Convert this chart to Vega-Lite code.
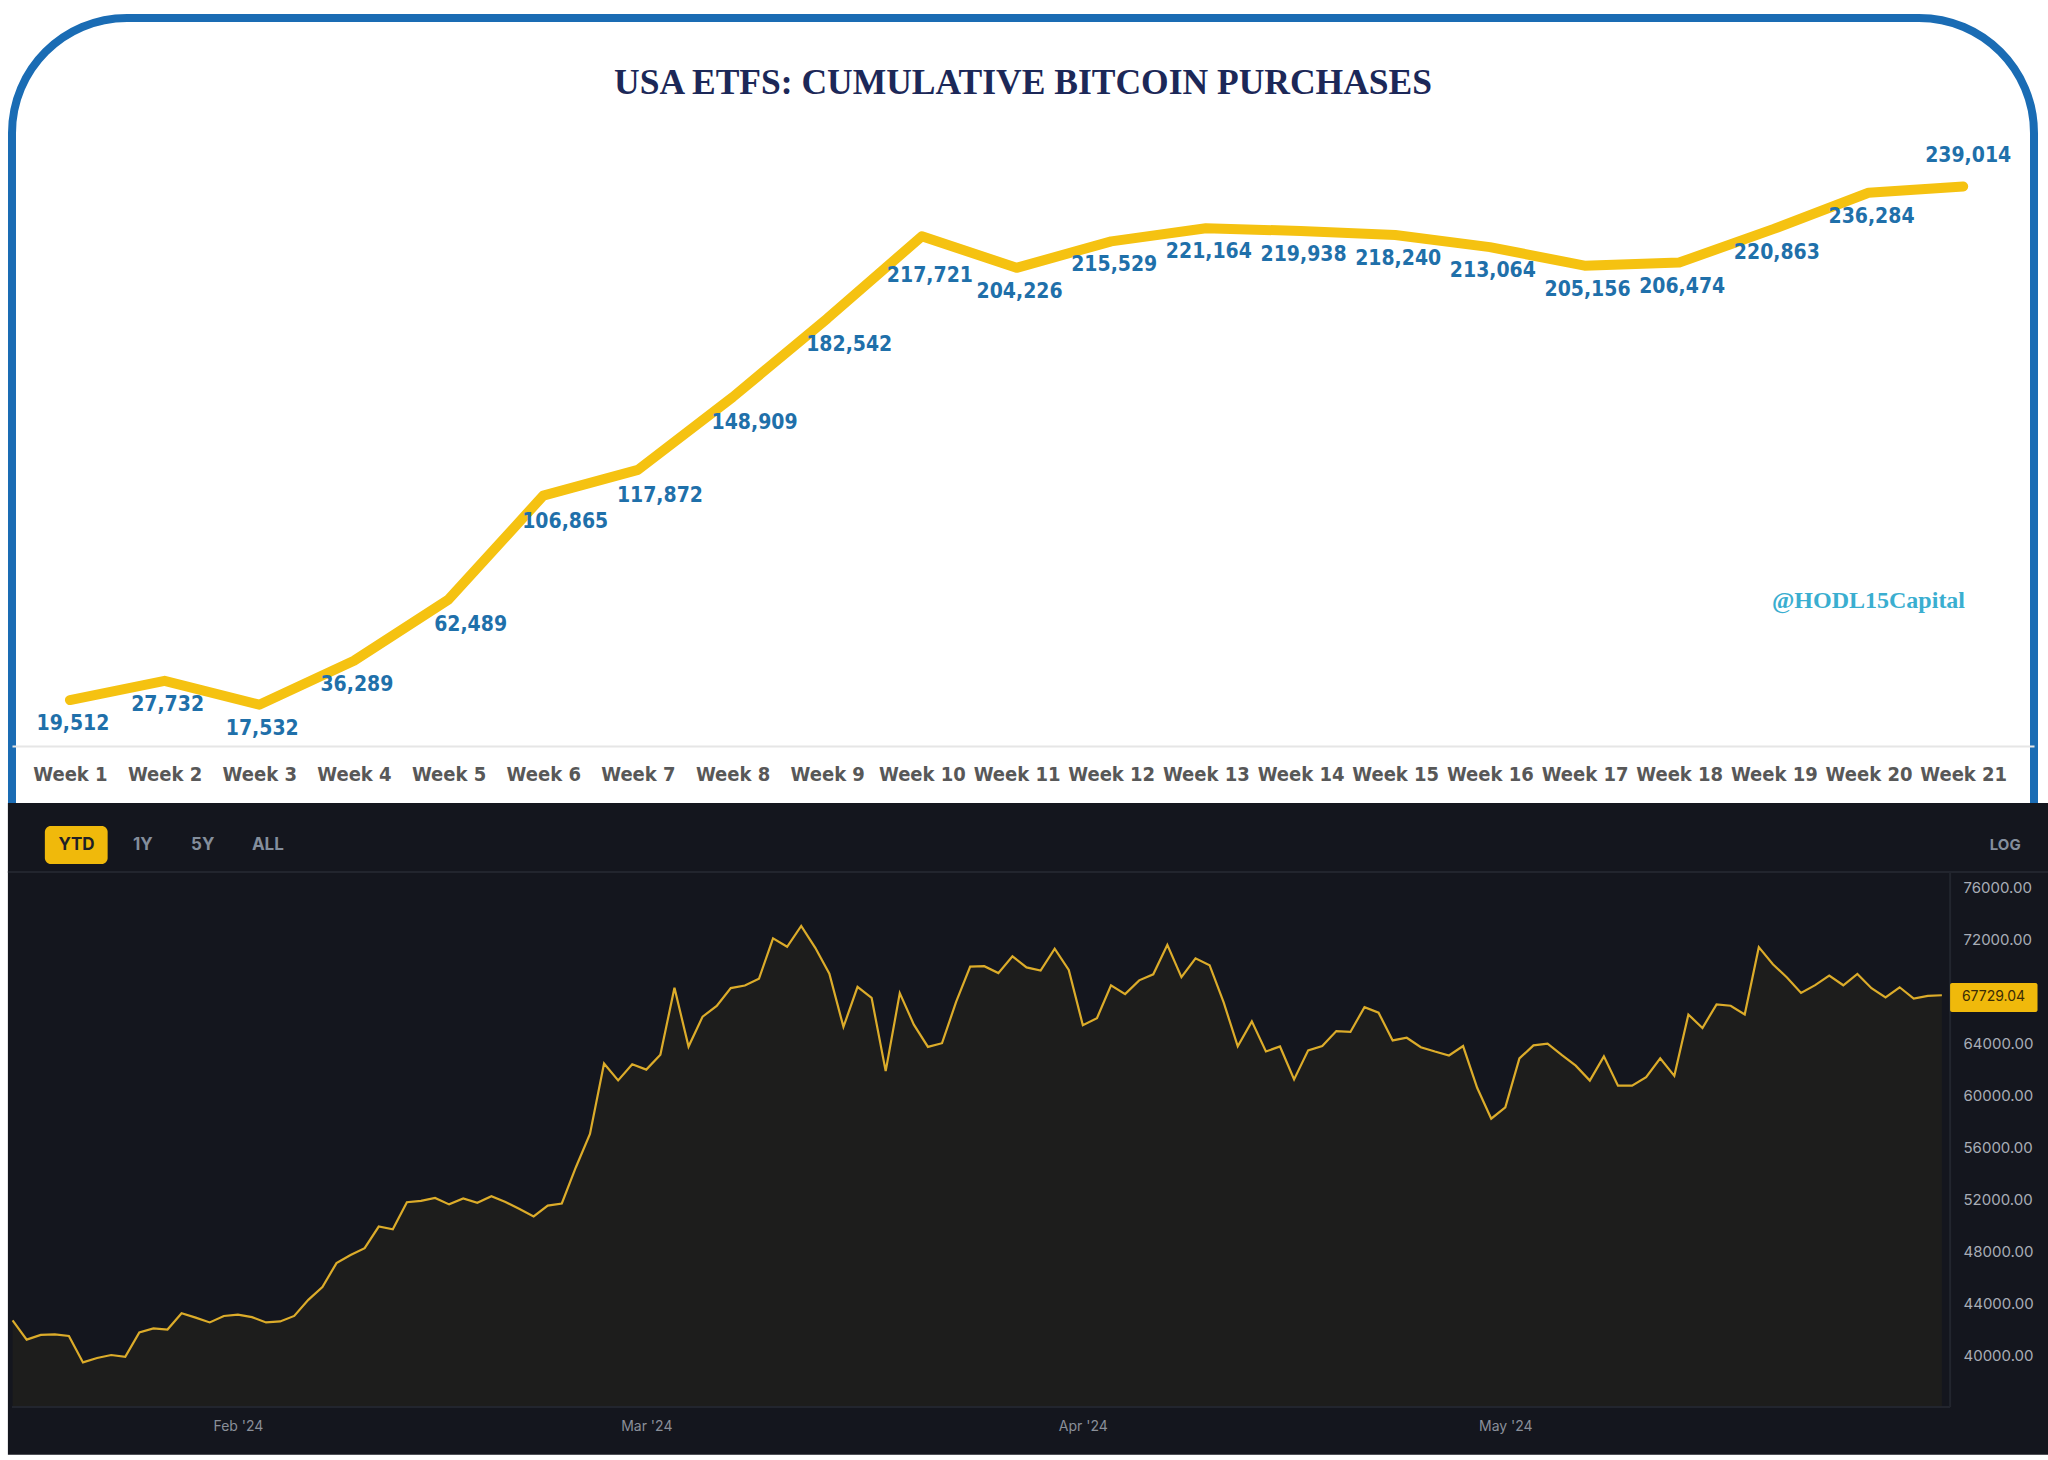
{
  "$schema": "https://vega.github.io/schema/vega-lite/v6.json",
  "background": "#ffffff",
  "autosize": {"type": "none"},
  "padding": {"left": 12, "top": 18, "right": 14, "bottom": 10},
  "width": 2022,
  "height": 1432,
  "view": {"fill": "#ffffff", "stroke": "#1a6cb4", "strokeWidth": 8, "cornerRadius": 115},
  "title": {"text": "USA ETFS: CUMULATIVE BITCOIN PURCHASES", "font": "Liberation Serif", "fontSize": 35.5, "fontWeight": "bold", "color": "#1c2858", "anchor": "middle", "frame": "group", "offset": -118, "baseline": "bottom"},
  "resolve": {"scale": {"x": "independent", "y": "independent"}, "axis": {"x": "independent", "y": "independent"}},
  "layer": [
    {
      "data": {"values": [
        {"week": "Week 1", "btc": 19512},
        {"week": "Week 2", "btc": 27732},
        {"week": "Week 3", "btc": 17532},
        {"week": "Week 4", "btc": 36289},
        {"week": "Week 5", "btc": 62489},
        {"week": "Week 6", "btc": 106865},
        {"week": "Week 7", "btc": 117872},
        {"week": "Week 8", "btc": 148909},
        {"week": "Week 9", "btc": 182542},
        {"week": "Week 10", "btc": 217721},
        {"week": "Week 11", "btc": 204226},
        {"week": "Week 12", "btc": 215529},
        {"week": "Week 13", "btc": 221164},
        {"week": "Week 14", "btc": 219938},
        {"week": "Week 15", "btc": 218240},
        {"week": "Week 16", "btc": 213064},
        {"week": "Week 17", "btc": 205156},
        {"week": "Week 18", "btc": 206474},
        {"week": "Week 19", "btc": 220863},
        {"week": "Week 20", "btc": 236284},
        {"week": "Week 21", "btc": 239014}
      ]},
      "encoding": {
        "x": {
          "field": "week", "type": "ordinal", "sort": null,
          "scale": {"type": "point", "padding": 0.68, "align": 0.45},
          "axis": {"title": null, "orient": "bottom", "offset": -704, "domain": true, "domainColor": "#e6e6e6", "domainWidth": 2, "ticks": false, "grid": false, "labelPadding": 18, "labelAngle": 0, "labelOverlap": false, "labelFont": "Liberation Sans Narrow, DejaVu Sans Condensed, Roboto Condensed, Liberation Serif", "labelFontSize": 20, "labelFontWeight": "bold", "labelColor": "#585858"}
        },
        "y": {"field": "btc", "type": "quantitative", "scale": {"domain": [-300983, 310983], "nice": false, "zero": false}, "axis": null}
      },
      "layer": [
        {
          "mark": {"type": "line", "color": "#f5c211", "strokeWidth": 10, "strokeCap": "round", "strokeJoin": "round"}
        },
        {
          "transform": [{"filter": {"field": "week", "oneOf": ["Week 1","Week 2","Week 3","Week 4","Week 11","Week 12","Week 13","Week 14","Week 15","Week 16","Week 17","Week 18","Week 19","Week 20"]}}],
          "mark": {"type": "text", "dx": 3, "dy": 24, "align": "center", "baseline": "middle", "font": "Liberation Sans Narrow, DejaVu Sans Condensed, Roboto Condensed, Liberation Serif", "fontSize": 21, "fontWeight": "bold", "color": "#1f70aa"},
          "encoding": {"text": {"field": "btc", "type": "quantitative", "format": ",d"}}
        },
        {
          "transform": [{"filter": {"field": "week", "oneOf": ["Week 5","Week 6","Week 7","Week 8","Week 9"]}}],
          "mark": {"type": "text", "dx": 22, "dy": 26, "align": "center", "baseline": "middle", "font": "Liberation Sans Narrow, DejaVu Sans Condensed, Roboto Condensed, Liberation Serif", "fontSize": 21, "fontWeight": "bold", "color": "#1f70aa"},
          "encoding": {"text": {"field": "btc", "type": "quantitative", "format": ",d"}}
        },
        {
          "transform": [{"filter": {"field": "week", "oneOf": ["Week 10"]}}],
          "mark": {"type": "text", "dx": 8, "dy": 40, "align": "center", "baseline": "middle", "font": "Liberation Sans Narrow, DejaVu Sans Condensed, Roboto Condensed, Liberation Serif", "fontSize": 21, "fontWeight": "bold", "color": "#1f70aa"},
          "encoding": {"text": {"field": "btc", "type": "quantitative", "format": ",d"}}
        },
        {
          "transform": [{"filter": {"field": "week", "oneOf": ["Week 21"]}}],
          "mark": {"type": "text", "dx": 5, "dy": -30, "align": "center", "baseline": "middle", "font": "Liberation Sans Narrow, DejaVu Sans Condensed, Roboto Condensed, Liberation Serif", "fontSize": 21, "fontWeight": "bold", "color": "#1f70aa"},
          "encoding": {"text": {"field": "btc", "type": "quantitative", "format": ",d"}}
        },
        {
          "transform": [{"filter": {"field": "week", "oneOf": ["Week 20"]}}],
          "mark": {"type": "text", "text": "@HODL15Capital", "align": "center", "baseline": "middle", "font": "Liberation Serif", "fontSize": 24, "fontWeight": "bold", "color": "#3aaed0"},
          "encoding": {"y": {"datum": 61700, "type": "quantitative"}}
        }
      ]
    },
    {
      "data": {"values": [
        {"date": "2024-01-16", "price": 42742},
        {"date": "2024-01-17", "price": 41262},
        {"date": "2024-01-18", "price": 41618},
        {"date": "2024-01-19", "price": 41665},
        {"date": "2024-01-20", "price": 41545},
        {"date": "2024-01-21", "price": 39507},
        {"date": "2024-01-22", "price": 39845},
        {"date": "2024-01-23", "price": 40077},
        {"date": "2024-01-24", "price": 39933},
        {"date": "2024-01-25", "price": 41816},
        {"date": "2024-01-26", "price": 42120},
        {"date": "2024-01-27", "price": 42035},
        {"date": "2024-01-28", "price": 43288},
        {"date": "2024-01-29", "price": 42952},
        {"date": "2024-01-30", "price": 42582},
        {"date": "2024-01-31", "price": 43075},
        {"date": "2024-02-01", "price": 43185},
        {"date": "2024-02-02", "price": 42992},
        {"date": "2024-02-03", "price": 42583},
        {"date": "2024-02-04", "price": 42658},
        {"date": "2024-02-05", "price": 43084},
        {"date": "2024-02-06", "price": 44318},
        {"date": "2024-02-07", "price": 45301},
        {"date": "2024-02-08", "price": 47147},
        {"date": "2024-02-09", "price": 47771},
        {"date": "2024-02-10", "price": 48293},
        {"date": "2024-02-11", "price": 49958},
        {"date": "2024-02-12", "price": 49743},
        {"date": "2024-02-13", "price": 51826},
        {"date": "2024-02-14", "price": 51938},
        {"date": "2024-02-15", "price": 52160},
        {"date": "2024-02-16", "price": 51663},
        {"date": "2024-02-17", "price": 52122},
        {"date": "2024-02-18", "price": 51780},
        {"date": "2024-02-19", "price": 52284},
        {"date": "2024-02-20", "price": 51839},
        {"date": "2024-02-21", "price": 51304},
        {"date": "2024-02-22", "price": 50731},
        {"date": "2024-02-23", "price": 51571},
        {"date": "2024-02-24", "price": 51733},
        {"date": "2024-02-25", "price": 54522},
        {"date": "2024-02-26", "price": 57085},
        {"date": "2024-02-27", "price": 62504},
        {"date": "2024-02-28", "price": 61198},
        {"date": "2024-02-29", "price": 62440},
        {"date": "2024-03-01", "price": 62029},
        {"date": "2024-03-02", "price": 63168},
        {"date": "2024-03-03", "price": 68330},
        {"date": "2024-03-04", "price": 63801},
        {"date": "2024-03-05", "price": 66106},
        {"date": "2024-03-06", "price": 66925},
        {"date": "2024-03-07", "price": 68300},
        {"date": "2024-03-08", "price": 68498},
        {"date": "2024-03-09", "price": 69020},
        {"date": "2024-03-10", "price": 72123},
        {"date": "2024-03-11", "price": 71481},
        {"date": "2024-03-12", "price": 73083},
        {"date": "2024-03-13", "price": 71397},
        {"date": "2024-03-14", "price": 69403},
        {"date": "2024-03-15", "price": 65316},
        {"date": "2024-03-16", "price": 68390},
        {"date": "2024-03-17", "price": 67548},
        {"date": "2024-03-18", "price": 61912},
        {"date": "2024-03-19", "price": 67913},
        {"date": "2024-03-20", "price": 65491},
        {"date": "2024-03-21", "price": 63778},
        {"date": "2024-03-22", "price": 64062},
        {"date": "2024-03-23", "price": 67234},
        {"date": "2024-03-24", "price": 69958},
        {"date": "2024-03-25", "price": 69987},
        {"date": "2024-03-26", "price": 69455},
        {"date": "2024-03-27", "price": 70744},
        {"date": "2024-03-28", "price": 69892},
        {"date": "2024-03-29", "price": 69645},
        {"date": "2024-03-30", "price": 71333},
        {"date": "2024-03-31", "price": 69702},
        {"date": "2024-04-01", "price": 65446},
        {"date": "2024-04-02", "price": 65980},
        {"date": "2024-04-03", "price": 68508},
        {"date": "2024-04-04", "price": 67838},
        {"date": "2024-04-05", "price": 68896},
        {"date": "2024-04-06", "price": 69362},
        {"date": "2024-04-07", "price": 71631},
        {"date": "2024-04-08", "price": 69139},
        {"date": "2024-04-09", "price": 70587},
        {"date": "2024-04-10", "price": 70060},
        {"date": "2024-04-11", "price": 67195},
        {"date": "2024-04-12", "price": 63821},
        {"date": "2024-04-13", "price": 65738},
        {"date": "2024-04-14", "price": 63426},
        {"date": "2024-04-15", "price": 63811},
        {"date": "2024-04-16", "price": 61276},
        {"date": "2024-04-17", "price": 63512},
        {"date": "2024-04-18", "price": 63843},
        {"date": "2024-04-19", "price": 64994},
        {"date": "2024-04-20", "price": 64927},
        {"date": "2024-04-21", "price": 66837},
        {"date": "2024-04-22", "price": 66408},
        {"date": "2024-04-23", "price": 64276},
        {"date": "2024-04-24", "price": 64481},
        {"date": "2024-04-25", "price": 63755},
        {"date": "2024-04-26", "price": 63419},
        {"date": "2024-04-27", "price": 63113},
        {"date": "2024-04-28", "price": 63841},
        {"date": "2024-04-29", "price": 60636},
        {"date": "2024-04-30", "price": 58254},
        {"date": "2024-05-01", "price": 59123},
        {"date": "2024-05-02", "price": 62889},
        {"date": "2024-05-03", "price": 63891},
        {"date": "2024-05-04", "price": 64031},
        {"date": "2024-05-05", "price": 63161},
        {"date": "2024-05-06", "price": 62334},
        {"date": "2024-05-07", "price": 61187},
        {"date": "2024-05-08", "price": 63049},
        {"date": "2024-05-09", "price": 60793},
        {"date": "2024-05-10", "price": 60793},
        {"date": "2024-05-11", "price": 61448},
        {"date": "2024-05-12", "price": 62901},
        {"date": "2024-05-13", "price": 61552},
        {"date": "2024-05-14", "price": 66267},
        {"date": "2024-05-15", "price": 65232},
        {"date": "2024-05-16", "price": 67051},
        {"date": "2024-05-17", "price": 66940},
        {"date": "2024-05-18", "price": 66278},
        {"date": "2024-05-19", "price": 71448},
        {"date": "2024-05-20", "price": 70136},
        {"date": "2024-05-21", "price": 69122},
        {"date": "2024-05-22", "price": 67929},
        {"date": "2024-05-23", "price": 68526},
        {"date": "2024-05-24", "price": 69265},
        {"date": "2024-05-25", "price": 68518},
        {"date": "2024-05-26", "price": 69394},
        {"date": "2024-05-27", "price": 68296},
        {"date": "2024-05-28", "price": 67578},
        {"date": "2024-05-29", "price": 68364},
        {"date": "2024-05-30", "price": 67491},
        {"date": "2024-05-31", "price": 67706},
        {"date": "2024-06-01", "price": 67751}
      ]},
      "layer": [
        {
          "data": {"values": [{}]},
          "mark": {"type": "rect", "color": "#14161e"},
          "encoding": {
            "x": {
              "datum": {"year": 2024, "month": 1, "date": 15, "hours": 16, "utc": true}, "type": "temporal",
              "scale": {"type": "utc", "domain": [{"year": 2024, "month": 1, "date": 15, "hours": 23, "utc": true}, {"year": 2024, "month": 6, "date": 7, "hours": 13, "utc": true}], "nice": false},
              "axis": {"title": null, "orient": "bottom", "offset": -43, "zindex": 2, "values": [{"year": 2024, "month": 2, "date": 1, "utc": true}, {"year": 2024, "month": 3, "date": 1, "utc": true}, {"year": 2024, "month": 4, "date": 1, "utc": true}, {"year": 2024, "month": 5, "date": 1, "utc": true}], "labelExpr": "utcFormat(datum.value, \"%b '%y\")", "labelColor": "#8a8f99", "labelFont": "Inter", "labelFontSize": 14, "labelPadding": 12, "domain": false, "ticks": false, "grid": false}
            },
            "x2": {"datum": {"year": 2024, "month": 6, "date": 8, "hours": 14, "utc": true}},
            "y": {
              "datum": 82538, "type": "quantitative",
              "scale": {"domain": [32769, 142923], "nice": false, "zero": false},
              "axis": {"title": null, "orient": "right", "offset": -84, "zindex": 2, "values": [40000, 44000, 48000, 52000, 56000, 60000, 64000, 72000, 76000], "format": ".2f", "labelColor": "#a8adb6", "labelFont": "Inter", "labelFontSize": 15, "labelPadding": 13, "labelAlign": "left", "domain": false, "ticks": false, "grid": false}
            },
            "y2": {"datum": 32400}
          }
        },
        {
          "mark": {"type": "area", "color": "#f0b90b", "opacity": 0.045},
          "encoding": {
            "x": {"field": "date", "type": "temporal"},
            "y": {"field": "price", "type": "quantitative"},
            "y2": {"datum": 36077}
          }
        },
        {
          "mark": {"type": "line", "color": "#dcac2a", "strokeWidth": 2.2},
          "encoding": {
            "x": {"field": "date", "type": "temporal"},
            "y": {"field": "price", "type": "quantitative"}
          }
        },
        {
          "data": {"values": [{}]},
          "mark": {"type": "rule", "color": "#22252e", "strokeWidth": 2},
          "encoding": {
            "x": {"datum": {"year": 2024, "month": 1, "date": 15, "hours": 16, "utc": true}, "type": "temporal"},
            "x2": {"datum": {"year": 2024, "month": 6, "date": 8, "hours": 14, "utc": true}},
            "y": {"datum": 77231, "type": "quantitative"}
          }
        },
        {
          "data": {"values": [{}]},
          "mark": {"type": "rule", "color": "#22252e", "strokeWidth": 2},
          "encoding": {
            "x": {"datum": {"year": 2024, "month": 1, "date": 15, "hours": 23, "utc": true}, "type": "temporal"},
            "x2": {"datum": {"year": 2024, "month": 6, "date": 1, "hours": 14, "utc": true}},
            "y": {"datum": 36077, "type": "quantitative"}
          }
        },
        {
          "data": {"values": [{}]},
          "mark": {"type": "rule", "color": "#22252e", "strokeWidth": 2},
          "encoding": {
            "x": {"datum": {"year": 2024, "month": 6, "date": 1, "hours": 14, "utc": true}, "type": "temporal"},
            "y": {"datum": 77231, "type": "quantitative"},
            "y2": {"datum": 36077}
          }
        },
        {
          "data": {"values": [{}]},
          "mark": {"type": "rect", "color": "#f0b90b", "cornerRadius": 6},
          "encoding": {
            "x": {"datum": {"year": 2024, "month": 1, "date": 18, "hours": 7, "utc": true}, "type": "temporal"},
            "x2": {"datum": {"year": 2024, "month": 1, "date": 22, "hours": 18, "utc": true}},
            "y": {"datum": 80769, "type": "quantitative"},
            "y2": {"datum": 77846}
          }
        },
        {
          "data": {"values": [{}]},
          "mark": {"type": "text", "text": "YTD", "align": "center", "baseline": "middle", "font": "Inter", "fontSize": 17, "fontWeight": "bold", "color": "#1e2026"},
          "encoding": {
            "x": {"datum": {"year": 2024, "month": 1, "date": 20, "hours": 13, "utc": true}, "type": "temporal"},
            "y": {"datum": 79308, "type": "quantitative"}
          }
        },
        {
          "data": {"values": [{}]},
          "mark": {"type": "text", "text": "1Y", "align": "center", "baseline": "middle", "font": "Inter", "fontSize": 17, "fontWeight": "bold", "color": "#848e9c"},
          "encoding": {
            "x": {"datum": {"year": 2024, "month": 1, "date": 25, "hours": 6, "utc": true}, "type": "temporal"},
            "y": {"datum": 79308, "type": "quantitative"}
          }
        },
        {
          "data": {"values": [{}]},
          "mark": {"type": "text", "text": "5Y", "align": "center", "baseline": "middle", "font": "Inter", "fontSize": 17, "fontWeight": "bold", "color": "#848e9c"},
          "encoding": {
            "x": {"datum": {"year": 2024, "month": 1, "date": 29, "hours": 12, "utc": true}, "type": "temporal"},
            "y": {"datum": 79308, "type": "quantitative"}
          }
        },
        {
          "data": {"values": [{}]},
          "mark": {"type": "text", "text": "ALL", "align": "center", "baseline": "middle", "font": "Inter", "fontSize": 17, "fontWeight": "bold", "color": "#848e9c"},
          "encoding": {
            "x": {"datum": {"year": 2024, "month": 2, "date": 3, "hours": 3, "utc": true}, "type": "temporal"},
            "y": {"datum": 79308, "type": "quantitative"}
          }
        },
        {
          "data": {"values": [{}]},
          "mark": {"type": "text", "text": "LOG", "align": "center", "baseline": "middle", "font": "Inter", "fontSize": 15, "fontWeight": "bold", "color": "#848e9c"},
          "encoding": {
            "x": {"datum": {"year": 2024, "month": 6, "date": 5, "hours": 12, "utc": true}, "type": "temporal"},
            "y": {"datum": 79308, "type": "quantitative"}
          }
        },
        {
          "data": {"values": [{}]},
          "mark": {"type": "rect", "color": "#f0b90b", "cornerRadius": 2},
          "encoding": {
            "x": {"datum": {"year": 2024, "month": 6, "date": 1, "hours": 14, "utc": true}, "type": "temporal"},
            "x2": {"datum": {"year": 2024, "month": 6, "date": 7, "hours": 19, "utc": true}},
            "y": {"datum": 68692, "type": "quantitative"},
            "y2": {"datum": 66462}
          }
        },
        {
          "data": {"values": [{}]},
          "mark": {"type": "text", "text": "67729.04", "align": "center", "baseline": "middle", "font": "Inter", "fontSize": 14, "color": "#3b2c05"},
          "encoding": {
            "x": {"datum": {"year": 2024, "month": 6, "date": 4, "hours": 16, "utc": true}, "type": "temporal"},
            "y": {"datum": 67577, "type": "quantitative"}
          }
        }
      ]
    }
  ]
}
